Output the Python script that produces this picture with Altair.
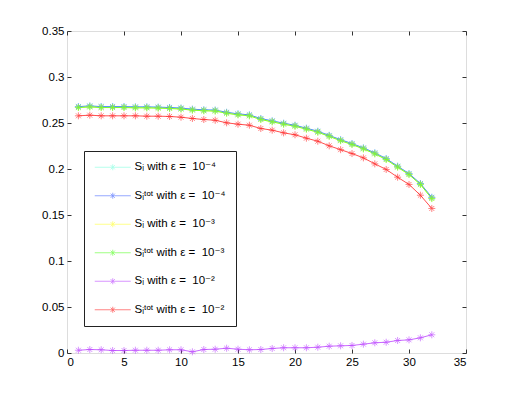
import altair as alt
import pandas as pd

x_vals = list(range(1, 33))

# S_i^tot with eps = 1e-4 (blue) and S_i with eps = 1e-4 (cyan) nearly identical
stot_1e4 = [0.2678, 0.2685, 0.2678, 0.2678, 0.2678, 0.2675, 0.2675, 0.2672, 0.2668, 0.2662,
            0.2650, 0.2643, 0.2640, 0.2616, 0.2599, 0.2588, 0.2548, 0.2523, 0.2497, 0.2475,
            0.2443, 0.2410, 0.2365, 0.2318, 0.2276, 0.2229, 0.2175, 0.2113, 0.2030, 0.1950,
            0.1842, 0.1692]
si_1e4 = [0.2678, 0.2685, 0.2678, 0.2678, 0.2678, 0.2675, 0.2675, 0.2672, 0.2668, 0.2662,
          0.2650, 0.2643, 0.2640, 0.2616, 0.2599, 0.2588, 0.2548, 0.2523, 0.2497, 0.2475,
          0.2443, 0.2410, 0.2365, 0.2318, 0.2276, 0.2229, 0.2175, 0.2113, 0.2030, 0.1950,
          0.1842, 0.1692]
stot_1e3 = [0.2668, 0.2675, 0.2668, 0.2668, 0.2668, 0.2665, 0.2665, 0.2662, 0.2658, 0.2652,
            0.2640, 0.2633, 0.2630, 0.2606, 0.2589, 0.2578, 0.2538, 0.2513, 0.2487, 0.2465,
            0.2433, 0.2400, 0.2355, 0.2308, 0.2266, 0.2219, 0.2165, 0.2103, 0.2020, 0.1940,
            0.1832, 0.1679]
si_1e3 = [0.2668, 0.2675, 0.2668, 0.2668, 0.2668, 0.2665, 0.2665, 0.2662, 0.2658, 0.2652,
          0.2640, 0.2633, 0.2630, 0.2606, 0.2589, 0.2578, 0.2538, 0.2513, 0.2487, 0.2465,
          0.2433, 0.2400, 0.2355, 0.2308, 0.2266, 0.2219, 0.2165, 0.2103, 0.2020, 0.1940,
          0.1832, 0.1679]
si_1e2 = [0.0030, 0.0038, 0.0035, 0.0027, 0.0027, 0.0030, 0.0030, 0.0030, 0.0035, 0.0035,
          0.0013, 0.0038, 0.0041, 0.0052, 0.0041, 0.0035, 0.0038, 0.0049, 0.0057, 0.0057,
          0.0057, 0.0063, 0.0074, 0.0078, 0.0082, 0.0096, 0.0111, 0.0117, 0.0136, 0.0143,
          0.0165, 0.0198]
stot_1e2 = [0.2578, 0.2585, 0.2578, 0.2578, 0.2578, 0.2578, 0.2574, 0.2574, 0.2571, 0.2563,
            0.2549, 0.2538, 0.2530, 0.2502, 0.2487, 0.2476, 0.2440, 0.2422, 0.2393, 0.2372,
            0.2335, 0.2302, 0.2252, 0.2210, 0.2168, 0.2121, 0.2056, 0.1995, 0.1911, 0.1832,
            0.1715, 0.1571]

NB = "\u00a0"
labels = [
    "S\u1d62 with \u03b5 =" + NB + NB + "10\u207b\u2074",
    "S\u1d62\u1d57\u1d52\u1d57 with \u03b5 =" + NB + NB + "10\u207b\u2074",
    "S\u1d62 with \u03b5 =" + NB + NB + "10\u207b\u00b3",
    "S\u1d62\u1d57\u1d52\u1d57 with \u03b5 =" + NB + NB + "10\u207b\u00b3",
    "S\u1d62 with \u03b5 =" + NB + NB + "10\u207b\u00b2",
    "S\u1d62\u1d57\u1d52\u1d57 with \u03b5 =" + NB + NB + "10\u207b\u00b2",
]
colors = ["#80FFE0", "#4466FF", "#FFFF33", "#55FF22", "#BB44FF", "#FF2222"]
series = [si_1e4, stot_1e4, si_1e3, stot_1e3, si_1e2, stot_1e2]

x_ticks = [0, 5, 10, 15, 20, 25, 30, 35]
y_ticks = [0, 0.05, 0.1, 0.15, 0.2, 0.25, 0.3, 0.35]

rows = []
for k, (lab, vals) in enumerate(zip(labels, series)):
    for xi, v in zip(x_vals, vals):
        rows.append({"x": xi, "y": v, "series": lab, "k": k})
df = pd.DataFrame(rows)

FONT = "Liberation Sans, Arial, DejaVu Sans"
ASTER = "M-1,0L1,0M0,-1L0,1M-0.7,-0.7L0.7,0.7M-0.7,0.7L0.7,-0.7"
LEG = "M-6,0L6,0M0,-1L0,1M-0.7,-0.7L0.7,0.7M-0.7,0.7L0.7,-0.7"

xscale = alt.Scale(domain=[0, 35], nice=False, zero=False)
yscale = alt.Scale(domain=[0, 0.35], nice=False, zero=False)

ax = dict(grid=False, domain=False, tickSize=4, offset=-4, tickColor="#333",
          tickWidth=1, labelFont=FONT, labelFontSize=11.5, labelColor="black",
          title=None)

color = alt.Color(
    "series:N",
    scale=alt.Scale(domain=labels, range=colors),
    sort=labels,
    legend=alt.Legend(
        title=None, orient="none", legendX=17, legendY=120,
        symbolType=LEG, symbolSize=36, symbolStrokeWidth=0.8,
        padding=10.5, rowPadding=15.5, labelFontSize=11.5, labelFont=FONT,
        labelColor="black", strokeColor="#222", fillColor="white",
        symbolOffset=12.5, labelOffset=16, cornerRadius=0,
    ),
)

base = alt.Chart(df)
lines = base.mark_line(strokeWidth=0.8).encode(
    x=alt.X("x:Q", scale=xscale,
            axis=alt.Axis(orient="bottom", values=x_ticks, labelPadding=3, **ax)),
    y=alt.Y("y:Q", scale=yscale,
            axis=alt.Axis(orient="left", values=y_ticks, format="~g", labelPadding=3, **ax)),
    color=color,
    detail="k:O",
)
points = base.mark_point(shape=ASTER, size=49, filled=False, strokeWidth=0.8).encode(
    x=alt.X("x:Q", scale=xscale, axis=None),
    y=alt.Y("y:Q", scale=yscale, axis=None),
    color=color,
    order="k:O",
)
frame = base.mark_point(opacity=0).encode(
    x=alt.X("x:Q", scale=xscale,
            axis=alt.Axis(orient="top", values=x_ticks, labels=False, **ax)),
    y=alt.Y("y:Q", scale=yscale,
            axis=alt.Axis(orient="right", values=y_ticks, labels=False, **ax)),
)

chart = (
    alt.layer(lines, points, frame)
    .resolve_axis(x="independent", y="independent")
    .properties(
        width=399, height=322,
        autosize=alt.AutoSizeParams(type="none"),
        padding={"left": 59, "top": 23, "right": 41, "bottom": 38},
    )
    .configure_view(stroke="#333", strokeWidth=1)
    .configure(background="white")
)

chart.save("out.html", embed_options={"renderer": "svg", "actions": False})
